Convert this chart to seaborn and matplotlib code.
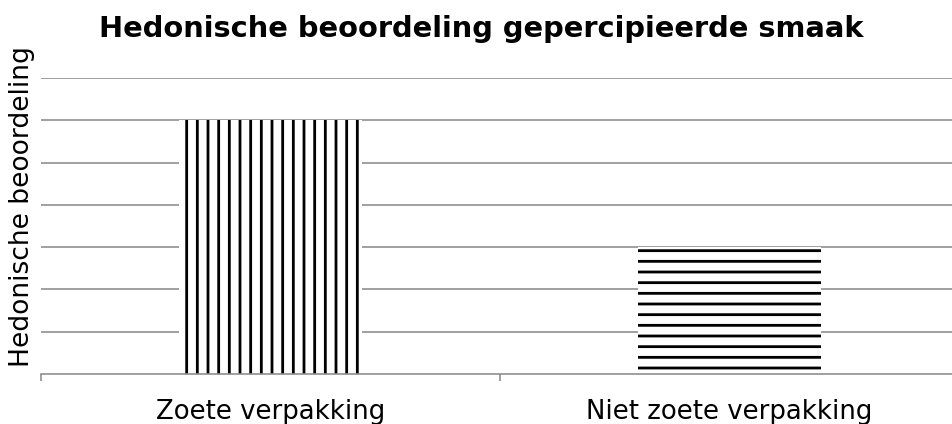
import matplotlib
matplotlib.use("Agg")
import matplotlib.pyplot as plt
import seaborn as sns

categories = ["Zoete verpakking", "Niet zoete verpakking"]
scores = [6, 3]
hatches = ["|", "-"]
title = "Hedonische beoordeling gepercipieerde smaak"
ylabel = "Hedonische beoordeling"

DPI = 64
W, H = 952, 424


def pt(px):
    return px * 72.0 / DPI


sns.set_theme(style="white")
plt.rcParams["font.family"] = ["DejaVu Sans"]
plt.rcParams["hatch.linewidth"] = pt(2.8)
plt.rcParams["hatch.color"] = "black"

fig = plt.figure(figsize=(W / DPI, H / DPI), dpi=DPI)
fig.patch.set_facecolor("white")
ax = fig.add_axes([41 / W, 1 - 374 / H, 918 / W, 296 / H])

sns.barplot(x=categories, y=scores, width=0.4, color="white",
            edgecolor="black", linewidth=0, ax=ax)
for patch, h in zip(ax.patches, hatches):
    patch.set_hatch(h)
    patch.set_edgecolor("black")
    patch.set_linewidth(0)

ax.set_xlim(-0.5, 1.5)
ax.set_ylim(0, 7)

# horizontal gridlines without labels
ax.set_yticks(range(1, 8))
ax.set_yticklabels([])
ax.tick_params(axis="y", length=0)
ax.grid(axis="y", color="#8c8c8c", linewidth=pt(1.6))
ax.set_axisbelow(True)

# category boundaries get the tick marks, labels sit between them
ax.set_xticks([-0.5, 0.5, 1.5])
ax.set_xticklabels([])
ax.set_xticks([0, 1], minor=True)
ax.set_xticklabels(categories, minor=True, fontsize=pt(26), color="black")
ax.tick_params(axis="x", which="major", length=pt(7), width=pt(1.6),
               color="#8c8c8c", direction="out", bottom=True)
ax.tick_params(axis="x", which="minor", length=0, pad=pt(25), bottom=True,
               labelcolor="black")
ax.set_xlabel("")
ax.set_ylabel("")

for side in ["left", "right", "top"]:
    ax.spines[side].set_visible(False)
ax.spines["bottom"].set_color("#8c8c8c")
ax.spines["bottom"].set_linewidth(pt(1.6))

fig.text(481 / W, 1 - 29 / H, title, ha="center", va="center",
         fontsize=pt(28.9), fontweight="bold", color="black")
fig.text(22 / W, 1 - 207 / H, ylabel, ha="center", va="center",
         rotation=90, fontsize=pt(26.5), color="black")

fig.savefig("out.png", dpi=DPI, facecolor="white")
